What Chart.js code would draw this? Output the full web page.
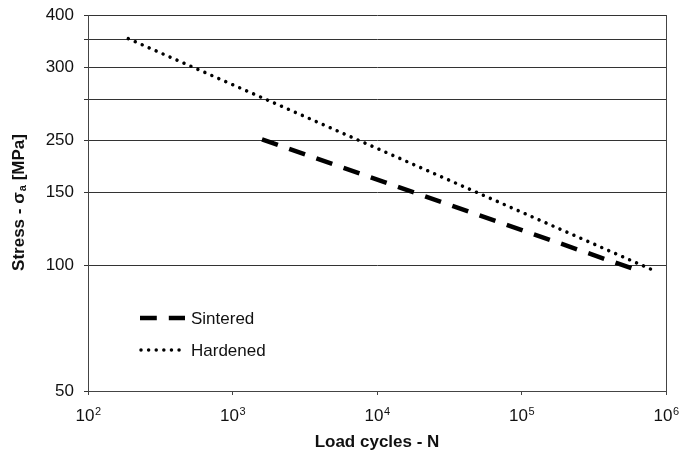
<!DOCTYPE html>
<html>
<head>
<meta charset="utf-8">
<script src="https://cdn.jsdelivr.net/npm/chart.js@4/dist/chart.umd.min.js"></script>
<style>
  html, body { margin: 0; padding: 0; background: #fff; }
  #wrap { width: 680px; height: 452px; }
</style>
</head>
<body>
<div id="wrap"><canvas id="chartSN" width="680" height="452"></canvas></div>
<script>
// S-N data (log-log straight lines)
const sinteredCycles = [1600, 580000];
const sinteredStress = [201, 98.5];
const hardenedCycles = [190, 790000];
const hardenedStress = [351, 98];

// axis ticks (labels as printed on the original)
const xTickValues = [100, 1000, 10000, 100000, 1000000];
const xTickExponents = ['2', '3', '4', '5', '6'];
const yTickValues = [50, 100, 150, 200, 250, 300, 350, 400];
const yTickLabels = ['50', '100', '150', '250', '', '300', '', '400'];

const FONT = 'Liberation Sans, Arial, sans-serif';
const TEXT = '#111';

function toPoints(xs, ys) {
  return xs.map(function (x, i) { return { x: x, y: ys[i] }; });
}

// x tick labels with superscripts, titles, frame and legend
const decorations = {
  id: 'decorations',
  afterDraw: function (chart) {
    const ctx = chart.ctx;
    const a = chart.chartArea;
    const xs = chart.scales.x;
    ctx.save();
    // right border
    ctx.strokeStyle = '#444';
    ctx.lineWidth = 1;
    ctx.beginPath();
    ctx.moveTo(Math.round(a.right) + 0.5, a.top);
    ctx.lineTo(Math.round(a.right) + 0.5, a.bottom);
    ctx.stroke();

    // x tick labels 10^n
    ctx.fillStyle = TEXT;
    ctx.textBaseline = 'alphabetic';
    ctx.textAlign = 'left';
    xTickValues.forEach(function (v, i) {
      const px = xs.getPixelForValue(v);
      ctx.font = '17px ' + FONT;
      const wb = ctx.measureText('10').width;
      ctx.font = '11px ' + FONT;
      const we = ctx.measureText(xTickExponents[i]).width;
      const x0 = px - (wb + we) / 2;
      ctx.font = '17px ' + FONT;
      ctx.fillText('10', x0, a.bottom + 30);
      ctx.font = '11px ' + FONT;
      ctx.fillText(xTickExponents[i], x0 + wb + 0.5, a.bottom + 24);
    });

    // x axis title
    ctx.font = 'bold 17px ' + FONT;
    ctx.textAlign = 'center';
    ctx.textBaseline = 'middle';
    ctx.fillText('Load cycles - N', (a.left + a.right) / 2, 442);

    // y axis title: Stress - σa [MPa]
    ctx.save();
    ctx.translate(19, (a.top + a.bottom) / 2);
    ctx.rotate(-Math.PI / 2);
    ctx.textBaseline = 'middle';
    const p1 = 'Stress - \u03C3', sub = 'a', p2 = ' [MPa]';
    ctx.font = 'bold 17px ' + FONT;
    const w1 = ctx.measureText(p1).width, w3 = ctx.measureText(p2).width;
    ctx.font = 'bold 11px ' + FONT;
    const w2 = ctx.measureText(sub).width;
    let x = -(w1 + w2 + w3) / 2;
    ctx.textAlign = 'left';
    ctx.font = 'bold 17px ' + FONT;
    ctx.fillText(p1, x, 0);
    x += w1 + 1;
    ctx.font = 'bold 11px ' + FONT;
    ctx.fillText(sub, x, 4);
    x += w2;
    ctx.font = 'bold 17px ' + FONT;
    ctx.fillText(p2, x, 0);
    ctx.restore();

    // legend
    const lx = 140, ly = 318;
    chart.data.datasets.forEach(function (ds, i) {
      const y = ly + i * 32;
      ctx.strokeStyle = ds.borderColor;
      ctx.lineWidth = ds.borderWidth;
      ctx.lineCap = ds.borderCapStyle || 'butt';
      ctx.setLineDash(ds.borderDash || []);
      ctx.beginPath();
      ctx.moveTo(lx + (i ? 1 : 0), y);
      ctx.lineTo(lx + 45, y);
      ctx.stroke();
      ctx.setLineDash([]);
      ctx.fillStyle = TEXT;
      ctx.font = '17px ' + FONT;
      ctx.textAlign = 'left';
      ctx.textBaseline = 'middle';
      ctx.fillText(ds.label, lx + 51, y + 1);
    });
    ctx.restore();
  }
};

const config = {
  type: 'line',
  data: {
    datasets: [{
      label: 'Sintered',
      data: toPoints(sinteredCycles, sinteredStress),
      borderColor: '#000',
      borderWidth: 4.5,
      borderDash: [16.8, 12],
      borderCapStyle: 'butt',
      pointRadius: 0,
      fill: false,
      tension: 0
    }, {
      label: 'Hardened',
      data: toPoints(hardenedCycles, hardenedStress),
      borderColor: '#000',
      borderWidth: 3.5,
      borderDash: [0.01, 7.6],
      borderCapStyle: 'round',
      pointRadius: 0,
      fill: false,
      tension: 0
    }]
  },
  options: {
    responsive: false,
    animation: false,
    events: [],
    layout: { padding: { top: 15, right: 14, left: 0, bottom: 0 } },
    plugins: {
      legend: { display: false },
      tooltip: { enabled: false }
    },
    scales: {
      x: {
        type: 'logarithmic',
        min: 100,
        max: 1000000,
        afterBuildTicks: function (scale) {
          scale.ticks = xTickValues.map(function (v) { return { value: v }; });
        },
        afterFit: function (scale) {
          scale.height = 61;
          scale.paddingLeft = 0;
          scale.paddingRight = 0;
        },
        grid: {
          drawOnChartArea: false,
          drawTicks: true,
          tickLength: 4,
          color: '#444'
        },
        border: { color: '#444', width: 1 },
        ticks: { display: false },
        title: { display: false }
      },
      y: {
        type: 'logarithmic',
        min: 50,
        max: 400,
        afterBuildTicks: function (scale) {
          scale.ticks = yTickValues.map(function (v) { return { value: v }; });
        },
        afterFit: function (scale) {
          scale.width = 88;
          scale.paddingTop = 0;
          scale.paddingBottom = 0;
        },
        grid: {
          drawOnChartArea: true,
          drawTicks: true,
          tickLength: 4,
          color: '#333',
          lineWidth: 1
        },
        border: { color: '#444', width: 1 },
        ticks: {
          padding: 10,
          autoSkip: false,
          color: TEXT,
          font: { family: FONT, size: 17 },
          callback: function (value) {
            const i = yTickValues.indexOf(value);
            return i >= 0 ? yTickLabels[i] : '';
          }
        },
        title: { display: false }
      }
    }
  },
  plugins: [decorations]
};

const chartSN = new Chart(document.getElementById('chartSN'), config);
</script>
</body>
</html>
